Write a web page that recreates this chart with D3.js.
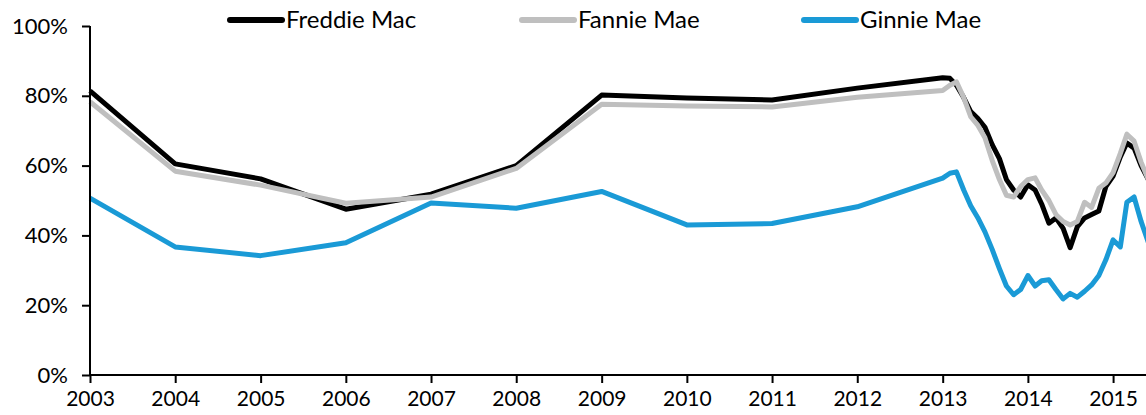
<html>
<head>
	<script src="https://d3js.org/d3.v7.min.js"></script>
	<style>
		body { margin: 0; background: #fff; }
		text { font-family: Lato, "Open Sans", sans-serif; fill: #000; }
	</style>
</head>
<body>
	<script>
		// annual points 2003-2012
		var annualYears = [2003, 2004, 2005, 2006, 2007, 2008, 2009, 2010, 2011, 2012];
		var freddieAnnual = [81.4, 60.5, 56.2, 47.5, 51.8, 60.0, 80.2, 79.4, 78.8, 82.2];
		var fannieAnnual  = [78.3, 58.4, 54.4, 49.2, 51.0, 59.2, 77.6, 77.1, 76.8, 79.6];
		var ginnieAnnual  = [50.7, 36.7, 34.2, 37.9, 49.3, 47.8, 52.6, 43.0, 43.4, 48.2];

		// monthly points Jan 2013 - Jun 2015
		var monthlyStart = [2013, 0];
		var freddieMonthly = [85.2, 85.0, 83.0, 79.5, 75.5, 73.5, 71.0, 66.0, 62.0, 56.0, 53.0, 51.0,
			54.5, 53.0, 49.0, 43.5, 45.0, 42.0, 36.5, 42.5, 45.0, 46.0, 47.0, 54.0,
			57.0, 62.5, 66.5, 65.0, 60.0, 56.0];
		var fannieMonthly = [81.5, 83.0, 84.0, 79.5, 74.0, 71.5, 68.0, 61.5, 56.0, 51.5, 51.0, 54.0,
			56.0, 56.5, 53.0, 50.0, 46.0, 44.0, 43.0, 44.0, 49.5, 48.0, 53.5, 55.0,
			58.0, 63.5, 69.0, 67.0, 61.0, 56.0];
		var ginnieMonthly = [56.4, 57.8, 58.2, 53.0, 48.5, 45.0, 41.0, 36.0, 30.5, 25.5, 23.0, 24.5,
			28.5, 25.5, 27.0, 27.3, 24.5, 21.8, 23.4, 22.3, 24.0, 25.8, 28.5, 33.0,
			38.7, 36.7, 49.5, 51.0, 44.0, 38.0];

		var yTicks = [0, 20, 40, 60, 80, 100];
		var xTickYears = [2003, 2004, 2005, 2006, 2007, 2008, 2009, 2010, 2011, 2012, 2013, 2014, 2015];

		var seriesNames = ["Freddie Mac", "Fannie Mae", "Ginnie Mae"];
		var seriesColors = ["#000000", "#bfbfbf", "#1a9ad6"];

		var w = 1146, h = 415;
		var pL = 90, pR = 1146, pT = 26, pB = 375;

		function build(annual, monthly) {
			var pts = annualYears.map(function(yr, i) { return { date: new Date(yr, 0, 1), v: annual[i] }; });
			monthly.forEach(function(v, i) {
				pts.push({ date: new Date(monthlyStart[0], monthlyStart[1] + i, 1), v: v });
			});
			return pts;
		}

		var series = [
			build(freddieAnnual, freddieMonthly),
			build(fannieAnnual, fannieMonthly),
			build(ginnieAnnual, ginnieMonthly)
		];

		var xScale = d3.scaleTime().domain([new Date(2003, 0, 1), new Date(2015, 4, 22)]).range([pL, pR]);
		var yScale = d3.scaleLinear().domain([0, 100]).range([pB, pT]);

		var svg = d3.select("body").append("svg").attr("width", w).attr("height", h);

		svg.append("defs").append("clipPath").attr("id", "plot")
			.append("rect").attr("x", 0).attr("y", 0).attr("width", pR).attr("height", h);

		var line = d3.line()
			.x(function(d) { return xScale(d.date); })
			.y(function(d) { return yScale(d.v); });

		// lines: Freddie first, Fannie over it, Ginnie last
		var g = svg.append("g").attr("clip-path", "url(#plot)");
		series.forEach(function(s, i) {
			g.append("path")
				.attr("d", line(s))
				.attr("fill", "none")
				.attr("stroke", seriesColors[i])
				.attr("stroke-width", 5)
				.attr("stroke-linejoin", "round");
		});

		// y axis
		var yAxis = d3.axisLeft(yScale).tickValues(yTicks).tickSize(8).tickPadding(14)
			.tickFormat(function(d) { return d + "%"; });
		var ya = svg.append("g").attr("transform", "translate(" + pL + ",0)").call(yAxis);

		// x axis
		var xAxis = d3.axisBottom(xScale)
			.tickValues(xTickYears.map(function(yr) { return new Date(yr, 0, 1); }))
			.tickSize(8).tickPadding(8)
			.tickFormat(d3.timeFormat("%Y"));
		var xa = svg.append("g").attr("transform", "translate(0," + pB + ")").call(xAxis);

		[ya, xa].forEach(function(a) {
			a.select(".domain").attr("stroke", "#000").attr("stroke-width", 2);
			a.selectAll(".tick line").attr("stroke", "#000").attr("stroke-width", 2);
			a.selectAll(".tick text").style("font-size", "21px").attr("fill", "#000");
		});
		ya.selectAll(".tick text").style("font-size", "22px");
		ya.select(".domain").attr("d", "M0," + pT + "V" + pB);
		xa.select(".domain").attr("d", "M" + pL + ",0H" + pR);

		// legend
		var legendX = [228, 520, 802];
		seriesNames.forEach(function(name, i) {
			var lg = svg.append("g").attr("transform", "translate(" + legendX[i] + ",20)");
			lg.append("line").attr("x1", 2).attr("x2", 54).attr("y1", 0).attr("y2", 0)
				.attr("stroke", seriesColors[i]).attr("stroke-width", 6).attr("stroke-linecap", "round");
			lg.append("text").attr("x", 58).attr("y", 8).style("font-size", "24px").text(name);
		});
	</script>
</body>
</html>
